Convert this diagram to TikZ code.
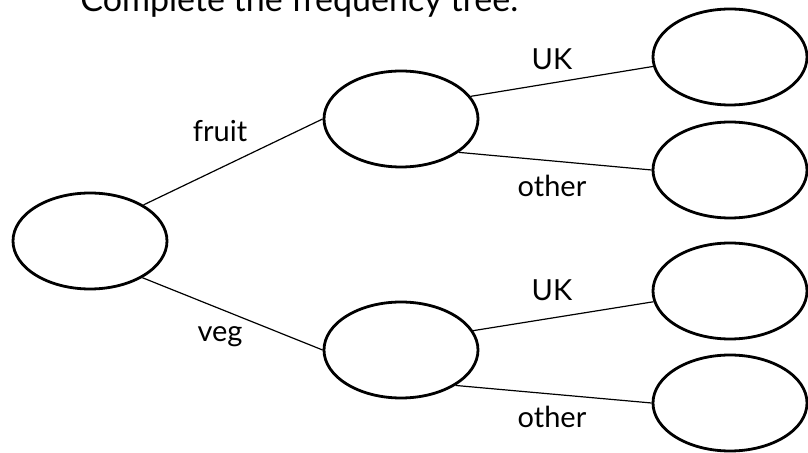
\documentclass[tikz,border=0pt]{standalone}
\usepackage{fontspec}
\setmainfont{Lato}
\usepackage{tikz}
\usetikzlibrary{shapes.geometric}

\tikzset{
  freq/.style={ellipse, draw, line width=1.4pt, inner sep=0pt,
    minimum width=77pt, minimum height=48pt},
  branch/.style={line width=0.6pt},
  lbl/.style={anchor=base, inner sep=0pt, font=\fontsize{14.5}{16}\selectfont}
}

\begin{document}
\begin{tikzpicture}[x=0.5pt,y=-0.5pt]
  \useasboundingbox (0,0) rectangle (808,453);

  \node[anchor=base west, inner sep=0pt, font=\fontsize{17}{19}\selectfont]
    (T) at (80,12) {Complete the frequency tree.};

  \node[freq] (O) at (90,241) {};

  % fruit
  \node[freq] (M1) at (401,119) {};
  \node[freq] (A11) at (730,57) {};
  \node[freq] (A12) at (730,170) {};

  % veg
  \node[freq] (M2) at (401,350) {};
  \node[freq] (A21) at (730,291) {};
  \node[freq] (A22) at (730,403) {};

  \draw[branch] (O.34) -- (M1.180);
  \draw[branch] (O.-35) -- (M2.180);
  \draw[branch] (M1.18) -- (A11.187);
  \draw[branch] (M1.-30) -- (A12.180);
  \draw[branch] (M2.15) -- (A21.188);
  \draw[branch] (M2.-33) -- (A22.180);

  \node[lbl] (L1) at (220,142) {fruit};
  \node[lbl] (L2) at (220,342) {veg};
  \node[lbl] (L11) at (552,70) {UK};
  \node[lbl] (L12) at (552,197) {other};
  \node[lbl] (L21) at (552,301) {UK};
  \node[lbl] (L22) at (552,428) {other};
\end{tikzpicture}
\end{document}
